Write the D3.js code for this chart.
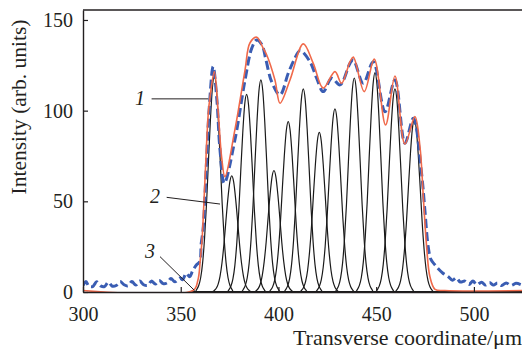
<!DOCTYPE html>
<html>
<head>
<meta charset="utf-8">
<script src="https://cdn.jsdelivr.net/npm/d3@7"></script>
<style>
  body { margin: 0; background: #fff; }
  svg { display: block; }
  text { font-family: "Liberation Serif", "Times New Roman", serif; fill: #231f20; }
</style>
</head>
<body>
<svg id="chart" width="522" height="349"></svg>
<script>
// fitted components (black): centre, peak height
const peakCenters = [367.2, 376.1, 383.7, 391.0, 397.7, 405.0, 412.7, 420.9, 428.9, 438.8, 449.4, 459.6, 469.5];
const peakHeights = [119, 64, 109, 117, 67, 94, 112, 88, 101, 118, 121, 112, 95];
// shape of one component (offset in µm, fraction of height)
const peakProfile = [[-10, 0], [-9, 0.012], [-8, 0.03], [-7, 0.066], [-6, 0.135], [-5, 0.25], [-4, 0.41],
                     [-3, 0.61], [-2, 0.8], [-1, 0.946], [0, 1], [1, 0.946], [2, 0.8], [3, 0.61], [4, 0.41],
                     [5, 0.25], [6, 0.135], [7, 0.066], [8, 0.03], [9, 0.012], [10, 0]];

// curve 1 (red): sum
const fitCurve = [
  [300, 0.8], [356.3, 0.8], [358.8, 6.6], [360.0, 17.6], [360.9, 28.7], [362.4, 61.8], [364.1, 98.6],
  [365.0, 107.6], [367.2, 121.5], [369.2, 98.7], [370.9, 74.6], [372.6, 63.6], [377.7, 89.4],
  [382.9, 122.4], [385.4, 137.3], [388.9, 140.5], [392.1, 134.6], [394.0, 130.7], [398.2, 116.9],
  [400.8, 104.1], [405.9, 116.9], [412.7, 136.8], [417.8, 126.1], [422.9, 112.4], [428.9, 121.5],
  [432.3, 115.1], [436.6, 127.0], [438.3, 129.5], [443.9, 110.5], [449.0, 128.4], [454.8, 92.1],
  [459.6, 119.1], [464.7, 81.6], [469.8, 96.7], [472.4, 80.1], [474.1, 52.6], [475.8, 25.0],
  [477.5, 8.4], [480.1, 1.5], [485.2, 0.8], [524.6, 0.8]
];

// measured profile (blue dashed)
const measured = [
  [300, 3.5], [301.5, 5.8], [303, 3.2], [305, 3.0], [307, 5.6], [309, 3.4], [311, 3.0], [313, 5.4],
  [315, 3.2], [317, 3.6], [319, 5.8], [321, 4.0], [323, 3.4], [325, 5.8], [327, 3.8], [329, 6.0],
  [331, 4.0], [333, 3.6], [335, 6.0], [337, 4.4], [339, 6.4], [341, 4.6], [343, 5.0], [345, 7.4],
  [347, 5.6], [349.6, 7.7], [351, 6.8], [352.8, 10.3], [354.6, 8.4], [356, 11.5], [358, 14.9],
  [359.7, 16.7], [360.5, 26.9], [361.4, 34], [363, 67], [364.5, 100], [366.6, 124.3], [368.5, 105.9],
  [370.1, 78.3], [372.3, 60], [377.7, 83.8], [382.9, 116.9], [386.4, 134.6], [388.9, 139],
  [391.6, 136.2], [393.6, 128], [396.5, 116], [400.8, 108.7], [405, 120.6], [408, 128], [411, 133.1],
  [416.1, 127], [419.5, 118], [422.9, 110.5], [427.2, 117.9], [431.5, 114.2], [436.6, 126.1],
  [438.3, 128], [443.4, 115.1], [448.5, 127], [454.5, 99.4], [459.6, 116.9], [464.7, 82], [469, 95.8],
  [473.2, 65.5], [474.9, 45.2], [476.6, 25], [478, 18], [480.1, 14.9], [482, 12.5], [484, 10.5],
  [486.9, 8.4], [489, 6.5], [491, 7.8], [493, 5.5], [495.4, 6.0], [497.5, 4.2], [499.5, 6.0],
  [501.5, 4.0], [503.9, 5.4], [506, 3.8], [508, 5.2], [510, 3.8], [512, 5.0], [514.2, 3.6],
  [516.5, 5.0], [519, 3.6], [521.5, 4.8], [524.6, 3.8]
];

const xTicks = [300, 350, 400, 450, 500];
const yTicks = [0, 50, 100, 150];

// curve labels: text position, leader start, leader end (data units)
const curveLabels = [
  { name: "1", at: [329.2, 103.1], from: [335.1, 106.5], to: [364.1, 106.5] },
  { name: "2", at: [336.8, 49.1], from: [342.8, 52.2], to: [370.1, 48.5] },
  { name: "3", at: [334.3, 18.8], from: [339.4, 19.5], to: [357.1, 0.8] }
];

const svg = d3.select("#chart");
const margin = { left: 83, top: 10, right: 0, bottom: 57 };
const width = 522 - margin.left - margin.right;
const height = 349 - margin.top - margin.bottom;

const x = d3.scaleLinear().domain([300, 524.6]).range([0, width]);
const y = d3.scaleLinear().domain([0, 155.5]).range([height, 0]);

const g = svg.append("g").attr("transform", `translate(${margin.left},${margin.top})`);

g.append("clipPath").attr("id", "plot-clip")
  .append("rect").attr("width", width).attr("height", height + 2).attr("y", -1);

const plot = g.append("g").attr("clip-path", "url(#plot-clip)");

const line = d3.line()
  .x(d => x(d[0]))
  .y(d => y(d[1]));

// black components
peakCenters.forEach((c, i) => {
  const pts = [[356, 0]]
    .concat(peakProfile.map(p => [c + p[0], peakHeights[i] * p[1]]))
    .concat([[524.6, 0]]);
  plot.append("path")
    .datum(pts)
    .attr("fill", "none")
    .attr("stroke", "#1a1a1a")
    .attr("stroke-width", 1.2)
    .attr("d", line.curve(d3.curveMonotoneX));
});

// measured
plot.append("path")
  .datum(measured)
  .attr("fill", "none")
  .attr("stroke", "#3a5db3")
  .attr("stroke-width", 3)
  .attr("stroke-dasharray", "9,4")
  .attr("d", line.curve(d3.curveCatmullRom));

// fit
plot.append("path")
  .datum(fitCurve)
  .attr("fill", "none")
  .attr("stroke", "#f0694a")
  .attr("stroke-width", 1.6)
  .attr("d", line.curve(d3.curveCatmullRom));

// axes
const xAxis = g.append("g")
  .attr("transform", `translate(0,${height})`)
  .call(d3.axisBottom(x).tickValues(xTicks).tickSizeInner(-5).tickSizeOuter(0).tickPadding(14.5));

const yAxis = g.append("g")
  .call(d3.axisLeft(y).tickValues(yTicks).tickSizeInner(-5).tickSizeOuter(0).tickPadding(10));

[xAxis, yAxis].forEach(a => {
  a.select(".domain").attr("stroke", "#231f20").attr("stroke-width", 1.4);
  a.selectAll(".tick line").attr("stroke", "#231f20").attr("stroke-width", 1.2);
  a.selectAll(".tick text").attr("font-size", 20).attr("font-family", "Liberation Serif").attr("fill", "#231f20");
});

// frame top
g.append("line")
  .attr("x1", 0).attr("x2", width)
  .attr("y1", y(155.5)).attr("y2", y(155.5))
  .attr("stroke", "#231f20").attr("stroke-width", 1.4);

// axis titles
svg.append("text")
  .attr("transform", `translate(26,107) rotate(-90)`)
  .attr("text-anchor", "middle")
  .attr("font-size", 21.5)
  .text("Intensity (arb. units)");

svg.append("text")
  .attr("x", 522)
  .attr("y", 345)
  .attr("text-anchor", "end")
  .attr("font-size", 22)
  .text("Transverse coordinate/\u03bcm");

// curve labels
curveLabels.forEach(l => {
  g.append("line")
    .attr("x1", x(l.from[0])).attr("y1", y(l.from[1]))
    .attr("x2", x(l.to[0])).attr("y2", y(l.to[1]))
    .attr("stroke", "#231f20").attr("stroke-width", 1);
  g.append("text")
    .attr("x", x(l.at[0])).attr("y", y(l.at[1]))
    .attr("text-anchor", "middle")
    .attr("font-style", "italic")
    .attr("font-size", 20)
    .text(l.name);
});
</script>
</body>
</html>
